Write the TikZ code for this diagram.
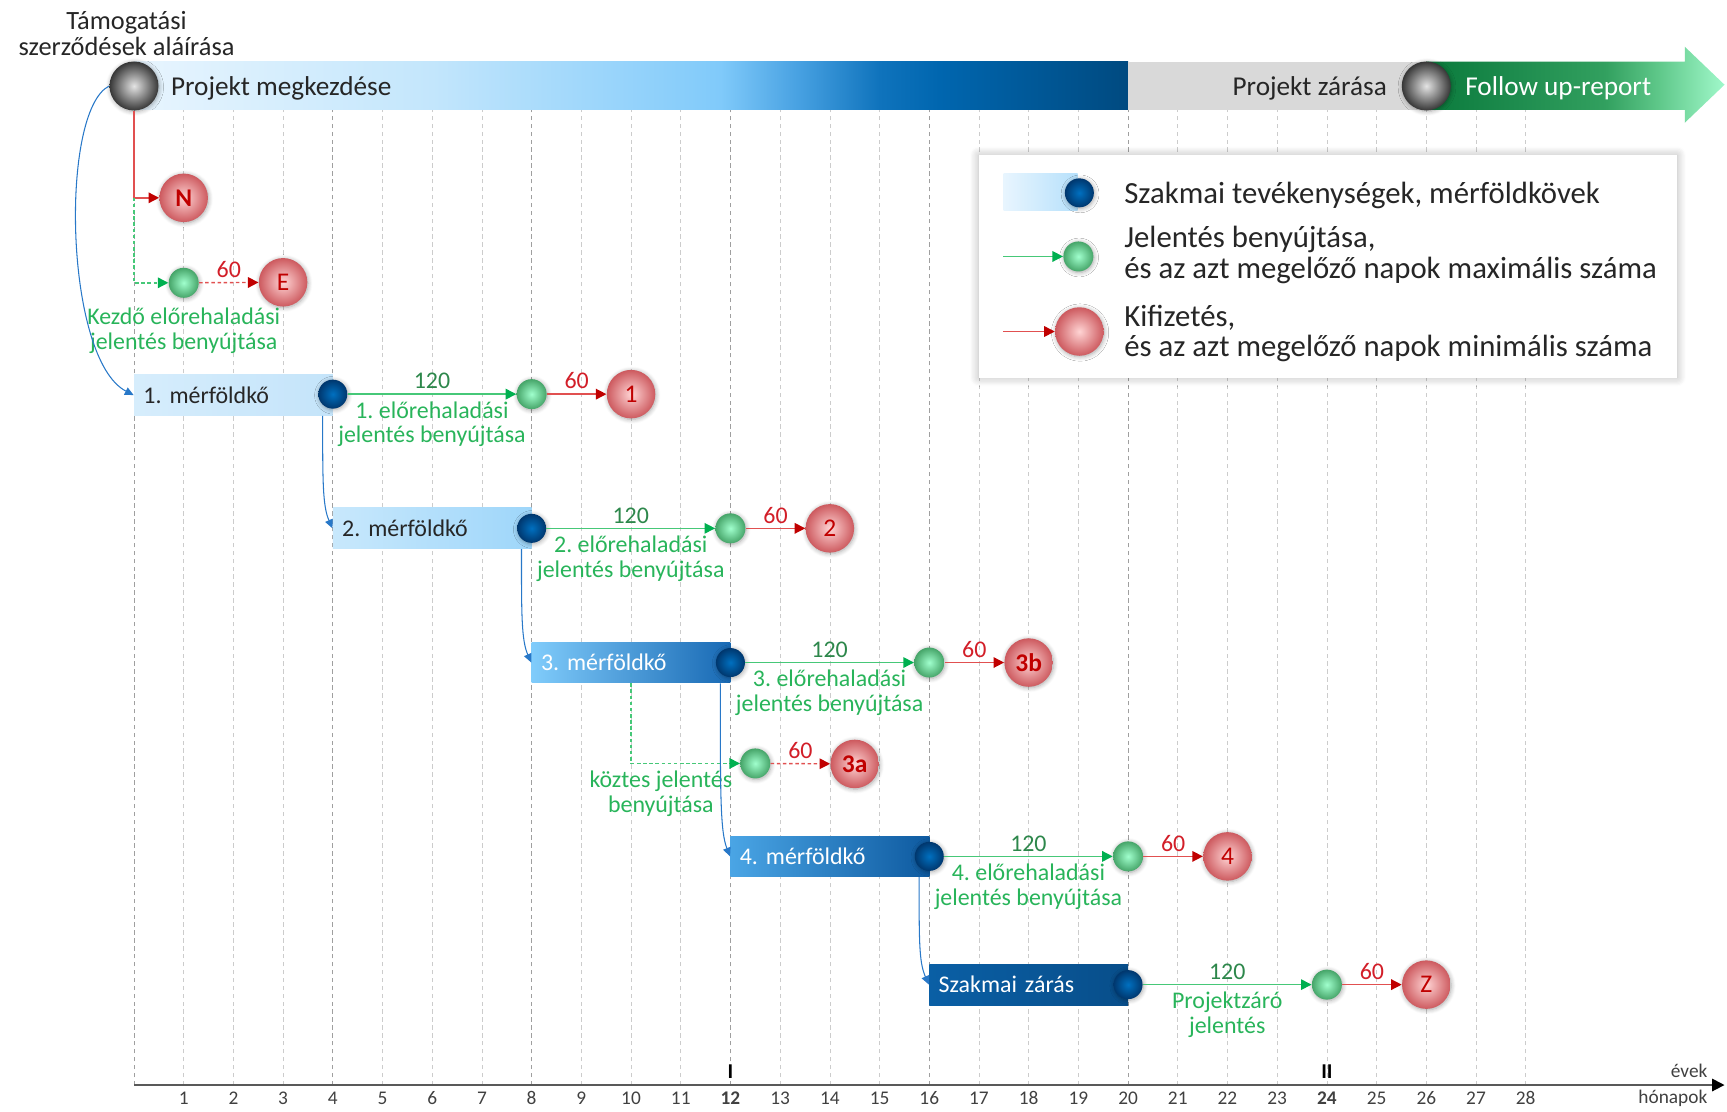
\documentclass[tikz,border=0pt]{standalone}
\usepackage{fontspec}
\setmainfont{Carlito}
\frenchspacing
\usetikzlibrary{arrows.meta,positioning,shadows.blur}

\definecolor{lblgreen}{RGB}{40,180,90}
\definecolor{numgreen}{RGB}{45,135,75}
\definecolor{arrgreen}{RGB}{0,176,80}
\definecolor{linegreen}{RGB}{70,200,120}
\definecolor{darkred}{RGB}{192,0,0}
\definecolor{linered}{RGB}{225,80,80}
\definecolor{numred}{RGB}{210,30,40}
\definecolor{curveblue}{RGB}{40,120,200}
\definecolor{boxtext}{RGB}{38,38,38}
\definecolor{redin}{RGB}{255,212,212}
\definecolor{redout}{RGB}{205,90,95}
\definecolor{greenin}{RGB}{160,255,205}
\definecolor{greenout}{RGB}{70,165,105}
\definecolor{bluein}{RGB}{0,112,192}
\definecolor{blueout}{RGB}{0,55,110}
\definecolor{grayin}{RGB}{228,228,228}
\definecolor{grayout}{RGB}{55,55,55}
\definecolor{bar0}{RGB}{232,245,254}
\definecolor{bar1}{RGB}{195,230,252}
\definecolor{bar2}{RGB}{128,202,250}
\definecolor{bar3}{RGB}{70,160,225}
\definecolor{bar4}{RGB}{15,115,188}
\definecolor{bar5}{RGB}{0,102,175}
\definecolor{bar6}{RGB}{0,74,128}
\definecolor{fol0}{RGB}{10,122,60}
\definecolor{fol1}{RGB}{30,140,78}
\definecolor{fol2}{RGB}{50,160,95}
\definecolor{fol3}{RGB}{95,200,138}
\definecolor{fol4}{RGB}{160,248,202}

\pgfdeclarehorizontalshading{startbar}{100bp}{color(0bp)=(bar0); color(25bp)=(bar0); color(40bp)=(bar1); color(54.5bp)=(bar2); color(58.5bp)=(bar3); color(62.5bp)=(bar4); color(65.5bp)=(bar5); color(75bp)=(bar6); color(100bp)=(bar6)}
\pgfdeclarehorizontalshading{followbar}{100bp}{color(0bp)=(fol0); color(25bp)=(fol0); color(40bp)=(fol1); color(55bp)=(fol2); color(64bp)=(fol3); color(75bp)=(fol4); color(100bp)=(fol4)}

\tikzset{
  ballshadow/.style={blur shadow={shadow blur steps=6, shadow xshift=0.4pt, shadow yshift=-0.6pt, shadow opacity=35, shadow blur radius=2.5pt}},
  payball/.style={circle, minimum size=0.97cm, inner sep=0pt, inner color=redin, outer color=redout, text=darkred, font=\fontsize{14.5}{15}\selectfont, ballshadow},
  repball/.style={circle, minimum size=0.6cm, inner sep=0pt, inner color=greenin, outer color=greenout, ballshadow},
  msball/.style={circle, minimum size=0.58cm, inner sep=0pt, inner color=bluein, outer color=blueout, ballshadow},
  endball/.style={circle, minimum size=0.98cm, inner sep=0pt, inner color=grayin, outer color=grayout, ballshadow},
  msbox/.style={minimum width=3.976cm, minimum height=0.815cm, text width=3.6cm, align=left, inner sep=0pt, font=\fontsize{13.6}{14}\selectfont},
  lbl/.style={text=lblgreen, align=center, font=\fontsize{13.6}{13.9}\selectfont, inner sep=1pt},
  daysg/.style={text=numgreen, font=\fontsize{13.6}{14}\selectfont, inner sep=2.5pt},
  daysr/.style={text=numred, font=\fontsize{13.6}{14}\selectfont, inner sep=2.5pt},
  toptext/.style={font=\fontsize{15.5}{16}\selectfont, text=black!85},
  signtext/.style={font=\fontsize{15}{15}\selectfont, align=center, text=black!85},
  legtext/.style={font=\fontsize{17.5}{17.5}\selectfont, align=left, text=black!85},
  month/.style={font=\fontsize{11}{11}\selectfont, text=black!75},
  reparrow/.style={draw=linegreen, line width=0.8pt, -{Triangle[length=6pt,width=6pt,color=arrgreen]}},
  payarrow/.style={draw=linered, line width=0.8pt, -{Triangle[length=6pt,width=6pt,color=darkred]}},
  repdash/.style={reparrow, dash pattern=on 2pt off 1.5pt},
  paydash/.style={payarrow, dash pattern=on 2pt off 1.5pt},
  msarrow/.style={draw=curveblue, line width=0.6pt, -{Triangle[length=5pt,width=4.5pt]}},
  gridline/.style={draw=gray!40, line width=0.4pt, dash pattern=on 2.5pt off 2pt},
  gridquarter/.style={draw=gray!75, line width=0.4pt, dash pattern=on 2.5pt off 2pt},
  legendbox/.style={fill=white, minimum width=13.97cm, minimum height=4.45cm, blur shadow={shadow blur steps=8, shadow xshift=0pt, shadow yshift=0pt, shadow opacity=30, shadow blur radius=5pt, shadow scale=1.0}}
}

\begin{document}
\begin{tikzpicture}[x=0.994cm, y=0.994cm]
\useasboundingbox (-2.696,-0.523) rectangle (32.05,21.83);
%grid
\foreach \m in {1,...,28} \draw[gridline] (\m,0) -- (\m,19.62);
\foreach \m in {0,4,...,20} \draw[gridquarter] (\m,0) -- (\m,19.62);
%time axis
\coordinate (t0) at (0,0);
\coordinate (tend) at (32,0);
\draw[black!65, line width=1pt, -{Triangle[length=7pt,width=7pt,color=black]}] (t0) -- (tend);
\foreach \m in {1,...,28} \node[month] at (\m,-0.27) {\ifnum\m=12 \textbf{\m}\else\ifnum\m=24 \textbf{\m}\else\m\fi\fi};
\node[font=\fontsize{12}{12}\selectfont\bfseries] (y1) at (12,0.27) {I};
\node[font=\fontsize{12}{12}\selectfont\bfseries] (y2) at (24,0.27) {II};
\node[month, anchor=east] (evek) at (31.78,0.29) {évek};
\node[month, anchor=east] (honap) at (31.78,-0.27) {hónapok};
%top bar
\shade[shading=startbar] (0,19.62) rectangle (20,20.59);
\fill[gray!30] (20,19.62) rectangle (26,20.59);
\shade[shading=followbar] (26,19.62) -- (31.2,19.62) -- (31.2,19.36) -- (32,20.125) -- (31.2,20.89) -- (31.2,20.59) -- (26,20.59) -- cycle;
\node[endball] (g0) at (0,20.1) {};
\node[endball] (g26) at (26,20.1) {};
\node[toptext, anchor=west] (start) at (0.62,20.06) {Projekt megkezdése};
\node[toptext, anchor=east] (close) at (25.33,20.06) {Projekt zárása};
\node[toptext, anchor=west, text=white] (follow) at (26.66,20.06) {Follow up-report};
\node[signtext] (sign) at (-0.15,21.15) {Támogatási\\szerződések aláírása};
%legend
\node[legendbox] (leg) at (24.02,16.47) {};
\node[left color=bar0, right color=bar1!80!bar2, minimum width=1.48cm, minimum height=0.726cm, inner sep=0pt] (lgbar) at (18.24,17.965) {};
\node[msball] (lgb) at (19.02,17.95) {};
\node[legtext, anchor=west] (lgt1) at (19.8,17.89) {Szakmai tevékenységek, mérföldkövek};
\coordinate (lgkstart) at (17.49,16.67);
\node[repball] (lgk) at (19.0,16.67) {};
\draw[reparrow] (lgkstart) -- (lgk);
\node[legtext, anchor=west] (lgt2) at (19.8,16.7) {Jelentés benyújtása,\\és az azt megelőző napok maximális száma};
\coordinate (lgpstart) at (17.49,15.16);
\node[payball] (lgp) at (19.02,15.16) {};
\draw[payarrow] (lgpstart) -- (lgp);
\node[legtext, anchor=west] (lgt3) at (19.8,15.12) {Kifizetés,\\és az azt megelőző napok minimális száma};
%advance payment
\node[payball, font=\fontsize{14.5}{15}\selectfont\bfseries] (pN) at (1,17.85) {N};
\node[repball] (k0) at (1,16.14) {};
\node[payball] (pE) at (3,16.15) {E};
\draw[payarrow] (g0.south) |- (pN.west);
\draw[repdash] (g0.south |- pN.west) |- (k0.west);
\draw[paydash] (k0) -- node[daysr, above]{60} (pE);
\node[lbl, below=4.5pt of k0] (k0lbl) {Kezdő előrehaladási\\jelentés benyújtása};
%milestone 1
\node[msbox, left color={rgb,255:red,214;green,237;blue,252}, right color={rgb,255:red,196;green,228;blue,250}, text=boxtext] (m1) at (2,13.88) {1. mérföldkő};
\node[msball] (b1) at (4,13.9) {};
\node[repball] (k1) at (8,13.9) {};
\node[payball] (p1) at (10,13.9) {1};
\draw[reparrow] (b1) -- node[daysg, above]{120} node[lbl, below=3pt]{1. előrehaladási\\jelentés benyújtása} (k1);
\draw[payarrow] (k1) -- node[daysr, above]{60} (p1);
\draw[msarrow] (g0.west) .. controls (-1.5,19.6) and (-1.4,14.6) .. (m1.west);
%milestone 2
\node[msbox, left color={rgb,255:red,200;green,232;blue,252}, right color={rgb,255:red,158;green,214;blue,250}, text=boxtext] (m2) at (6,11.2) {2. mérföldkő};
\node[msball] (b2) at (8,11.2) {};
\node[repball] (k2) at (12,11.2) {};
\node[payball] (p2) at (14,11.2) {2};
\draw[reparrow] (b2) -- node[daysg, above]{120} node[lbl, below=3pt]{2. előrehaladási\\jelentés benyújtása} (k2);
\draw[payarrow] (k2) -- node[daysr, above]{60} (p2);
\draw[msarrow] ([xshift=-0.21cm]m1.south east) .. controls +(0,-1.3) and +(-0.2,0.45) .. (m2.west);
%milestone 3
\node[msbox, left color={rgb,255:red,128;green,204;blue,251}, right color={rgb,255:red,24;green,105;blue,180}, text=white] (m3) at (10,8.5) {3. mérföldkő};
\node[msball] (b3) at (12,8.5) {};
\node[repball] (k3) at (16,8.5) {};
\node[payball, font=\fontsize{14.5}{15}\selectfont\bfseries] (p3b) at (18,8.5) {3b};
\draw[reparrow] (b3) -- node[daysg, above]{120} node[lbl, below=3pt]{3. előrehaladási\\jelentés benyújtása} (k3);
\draw[payarrow] (k3) -- node[daysr, above]{60} (p3b);
\draw[msarrow] ([xshift=-0.21cm]m2.south east) .. controls +(0,-1.3) and +(-0.2,0.45) .. (m3.west);
%interim report
\node[repball] (k3a) at (12.5,6.47) {};
\node[payball, font=\fontsize{14.5}{15}\selectfont\bfseries] (p3a) at (14.5,6.46) {3a};
\draw[repdash] (m3.south) |- (k3a.west);
\draw[paydash] (k3a) -- node[daysr, above]{60} (p3a);
\node[lbl, anchor=north] (k3albl) at (10.6,6.36) {köztes jelentés\\benyújtása};
%milestone 4
\node[msbox, left color={rgb,255:red,74;green,165;blue,229}, right color={rgb,255:red,14;green,90;blue,160}, text=white] (m4) at (14,4.6) {4. mérföldkő};
\node[msball] (b4) at (16,4.6) {};
\node[repball] (k4) at (20,4.6) {};
\node[payball] (p4) at (22,4.6) {4};
\draw[reparrow] (b4) -- node[daysg, above]{120} node[lbl, below=3pt]{4. előrehaladási\\jelentés benyújtása} (k4);
\draw[payarrow] (k4) -- node[daysr, above]{60} (p4);
\draw[msarrow] ([xshift=-0.21cm]m3.south east) .. controls +(0,-2.2) and +(-0.2,0.5) .. (m4.west);
%closing
\node[msbox, left color={rgb,255:red,10;green,95;blue,165}, right color={rgb,255:red,8;green,78;blue,138}, text=white] (m5) at (18,2.02) {Szakmai zárás};
\node[msball] (b5) at (20,2.02) {};
\node[repball] (k5) at (24,2.02) {};
\node[payball] (pZ) at (26,2.02) {Z};
\draw[reparrow] (b5) -- node[daysg, above]{120} node[lbl, below=3pt]{Projektzáró\\jelentés} (k5);
\draw[payarrow] (k5) -- node[daysr, above]{60} (pZ);
\draw[msarrow] ([xshift=-0.21cm]m4.south east) .. controls +(0,-1.3) and +(-0.2,0.45) .. (m5.west);
\end{tikzpicture}
\end{document}
